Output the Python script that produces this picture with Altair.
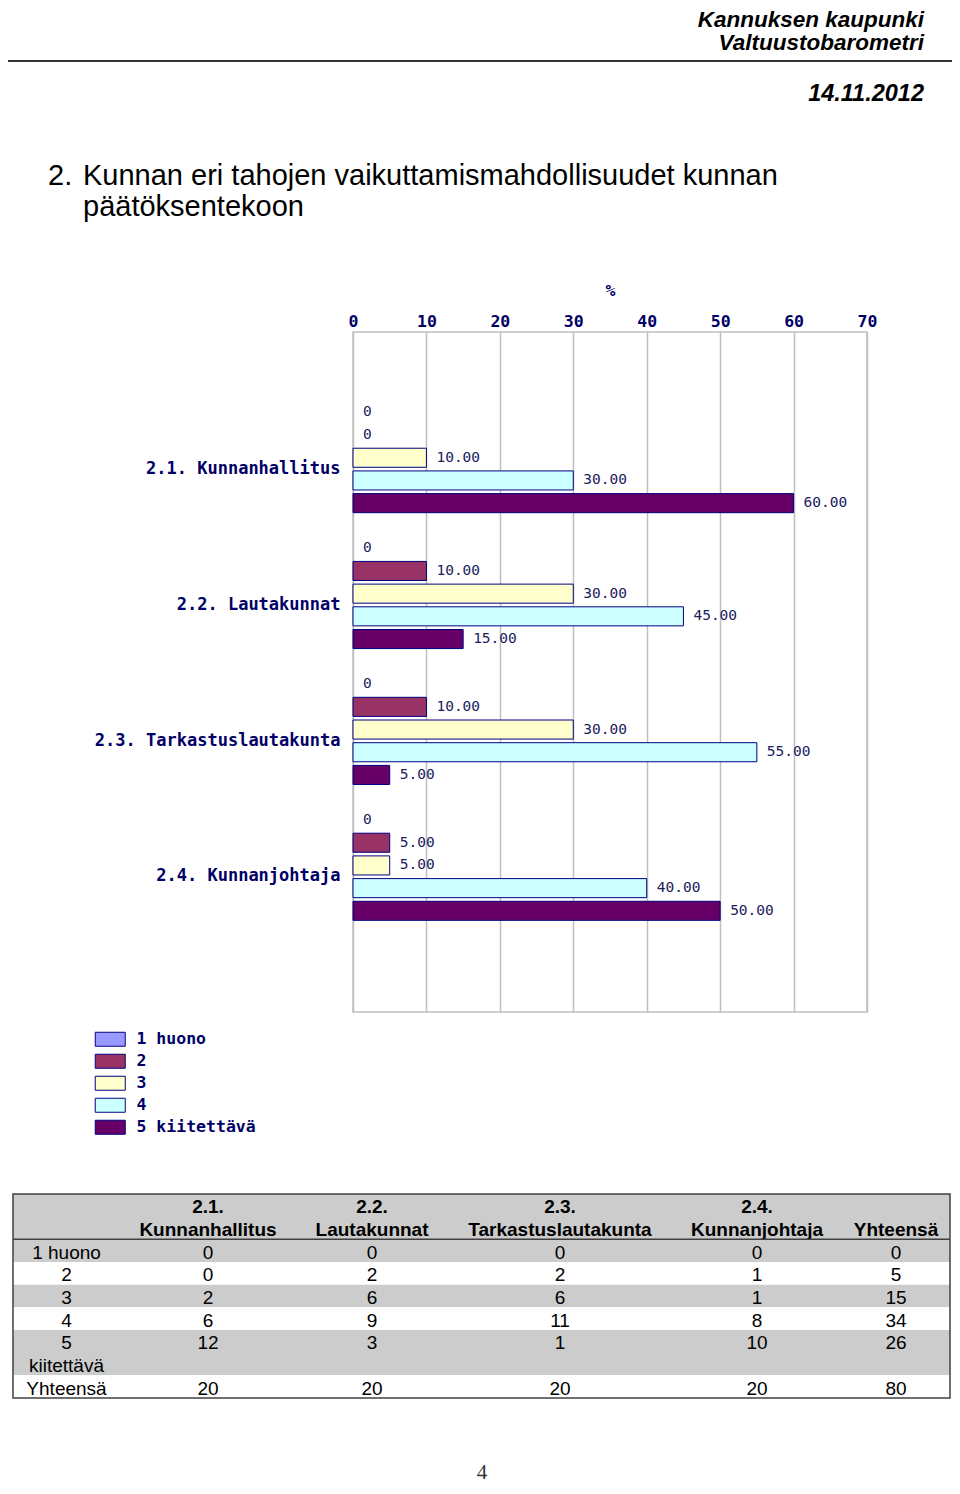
import altair as alt
import pandas as pd

# ------------------------------------------------------------------ data
categories = ["2.1. Kunnanhallitus", "2.2. Lautakunnat",
              "2.3. Tarkastuslautakunta", "2.4. Kunnanjohtaja"]
series = ["1 huono", "2", "3", "4", "5 kiitettävä"]
pct_kunnanhallitus = [0, 0, 10, 30, 60]
pct_lautakunnat = [0, 10, 30, 45, 15]
pct_tarkastuslautakunta = [0, 10, 30, 55, 5]
pct_kunnanjohtaja = [0, 5, 5, 40, 50]
x_ticks = [0, 10, 20, 30, 40, 50, 60, 70]

table_header_lines = [["", ""], ["2.1.", "Kunnanhallitus"], ["2.2.", "Lautakunnat"],
                      ["2.3.", "Tarkastuslautakunta"], ["2.4.", "Kunnanjohtaja"],
                      ["", "Yhteensä"]]
table_row_lines = [["1 huono"], ["2"], ["3"], ["4"], ["5", "kiitettävä"], ["Yhteensä"]]
cnt_kunnanhallitus = [0, 0, 2, 6, 12, 20]
cnt_lautakunnat = [0, 2, 6, 9, 3, 20]
cnt_tarkastuslautakunta = [0, 2, 6, 11, 1, 20]
cnt_kunnanjohtaja = [0, 1, 1, 8, 10, 20]
cnt_yhteensa = [0, 5, 15, 34, 26, 80]

header_line1 = "Kannuksen kaupunki"
header_line2 = "Valtuustobarometri"
header_date = "14.11.2012"
title_number = "2."
title_line1 = "Kunnan eri tahojen vaikuttamismahdollisuudet kunnan"
title_line2 = "päätöksentekoon"
page_number = "4"

# ------------------------------------------------------------------ styles / layout
MONO = "DejaVu Sans Mono"
SANS = "Liberation Sans"
NAVY = "#000066"
colors = ["#9999ff", "#993366", "#ffffcc", "#ccffff", "#660066"]
GRID = "#c0c0c0"
TGRAY = "#cccccc"
TLINE = "#404040"

# table geometry relative to the plot origin
TABLE_LEFT = -340
TABLE_TOP = 862
TABLE_BOTTOM = 1066
col_widths = [107, 176, 152, 224, 170, 108]

# ------------------------------------------------------------------ bar chart
pct_values = [pct_kunnanhallitus, pct_lautakunnat, pct_tarkastuslautakunta, pct_kunnanjohtaja]
df = pd.DataFrame([{"kategoria": c, "arvio": s, "pct": v}
                   for c, vals in zip(categories, pct_values)
                   for s, v in zip(series, vals)])

y_scale = alt.Scale(paddingInner=0.165, paddingOuter=0.5845, align=0.4345, round=False)
yoff_scale = alt.Scale(paddingInner=0.16, paddingOuter=0.08)

x_axis = alt.Axis(orient="top", values=x_ticks, grid=True, gridColor=GRID, gridWidth=1.5,
                  ticks=False, domain=False, labelFlush=False,
                  labelFont=MONO, labelFontWeight="bold", labelFontSize=16.5, labelColor=NAVY,
                  labelPadding=3, title="%", titleFont=MONO, titleFontWeight="bold",
                  titleFontSize=16.5, titleColor=NAVY, titlePadding=15)
y_axis = alt.Axis(title=None, ticks=False, domain=False, labelFont=MONO, labelFontWeight="bold",
                  labelFontSize=17, labelColor=NAVY, labelPadding=13, labelOffset=11,
                  labelLimit=400)

bars = alt.Chart(df).transform_filter("datum.pct > 0").mark_bar(
    stroke="#000080", strokeWidth=1
).encode(
    x=alt.X("pct:Q", scale=alt.Scale(domain=[0, 70], nice=False), axis=x_axis, title="%"),
    y=alt.Y("kategoria:N", sort=categories, scale=y_scale, axis=y_axis, title=None),
    yOffset=alt.YOffset("arvio:N", sort=series, scale=yoff_scale),
    color=alt.Color("arvio:N", scale=alt.Scale(domain=series, range=colors),
                    legend=alt.Legend(orient="none", legendX=-251, legendY=699, title=None,
                                      direction="vertical",
                                      symbolType="M-2.143,-1H2.143V1H-2.143Z", symbolSize=196,
                                      symbolStrokeColor="#000080", symbolStrokeWidth=1,
                                      symbolOpacity=1, labelFont=MONO, labelFontWeight="bold",
                                      labelFontSize=16.5, labelColor=NAVY, labelOffset=18,
                                      rowPadding=3, padding=0)),
)

value_labels = alt.Chart(df).transform_calculate(
    lbl="datum.pct == 0 ? '0' : format(datum.pct, '.2f')"
).mark_text(align="left", baseline="middle", dx=10, font=MONO, fontSize=14.5,
            color="#202060").encode(
    x=alt.X("pct:Q", title="%"),
    y=alt.Y("kategoria:N", sort=categories, title=None),
    yOffset=alt.YOffset("arvio:N", sort=series),
    text="lbl:N",
)

plot = alt.layer(bars, value_labels)


# ------------------------------------------------------------------ page texts
def deco_text(txt, x, y, **kw):
    return alt.Chart(pd.DataFrame({"t": [txt]})).mark_text(**kw).encode(
        text="t:N", x=alt.value(x), y=alt.value(y))


one = pd.DataFrame({"a": [0]})
hrule = alt.Chart(one).mark_rule(color="#333333", strokeWidth=2).encode(
    x=alt.value(-345), x2=alt.value(599), y=alt.value(-271))

hdr_kw = dict(font=SANS, fontWeight="bold", fontStyle="italic", align="right",
              baseline="alphabetic", color="black")
h1 = deco_text(header_line1, 571, -305, fontSize=22.5, **hdr_kw)
h2 = deco_text(header_line2, 571, -282, fontSize=22.5, **hdr_kw)
h3 = deco_text(header_date, 571, -231, fontSize=23.5, **hdr_kw)
ttl_kw = dict(font=SANS, fontSize=29, align="left", baseline="alphabetic", color="black")
t0 = deco_text(title_number, -305, -147, **ttl_kw)
t1 = deco_text(title_line1, -270, -147, **ttl_kw)
t2 = deco_text(title_line2, -270, -116, **ttl_kw)
pnum = deco_text(page_number, 129, 1147, font="Liberation Serif", fontSize=21,
                 align="center", baseline="alphabetic", color="#333333")

# ------------------------------------------------------------------ table
table_counts = [None, cnt_kunnanhallitus, cnt_lautakunnat, cnt_tarkastuslautakunta,
                cnt_kunnanjohtaja, cnt_yhteensa]
n_head = 2
starts = []
line = n_head
for rl in table_row_lines:
    starts.append(line)
    line += len(rl)
n_lines = line

edges = [TABLE_LEFT]
for w in col_widths:
    edges.append(edges[-1] + w)
TABLE_RIGHT = edges[-1]
col_centers = [(edges[i] + edges[i + 1]) / 2 for i in range(len(col_widths))]

t_xscale = alt.Scale(domain=list(range(len(col_widths))), range=col_centers)
t_yscale = alt.Scale(domain=[0, n_lines], range=[TABLE_TOP, TABLE_BOTTOM], nice=False, zero=False)

head_rows, body_rows = [], []
for j in range(len(col_widths)):
    for k, t in enumerate(table_header_lines[j]):
        head_rows.append({"kol": j, "rivi": k + 0.5, "teksti": t})
    for i, rl in enumerate(table_row_lines):
        if j == 0:
            for k, t in enumerate(rl):
                body_rows.append({"kol": j, "rivi": starts[i] + k + 0.5, "teksti": t})
        else:
            body_rows.append({"kol": j, "rivi": starts[i] + 0.5,
                              "teksti": str(table_counts[j][i])})
head_df = pd.DataFrame(head_rows)
body_df = pd.DataFrame(body_rows)
bg_df = pd.DataFrame([{"alku": 0, "loppu": n_head, "savy": TGRAY}] +
                     [{"alku": starts[i], "loppu": starts[i] + len(rl),
                       "savy": TGRAY if i % 2 == 0 else "white"}
                      for i, rl in enumerate(table_row_lines)])
rule_df = pd.DataFrame({"raja": [n_head]})
frame_df = pd.DataFrame({"a": [0], "b": [n_lines]})

t_bg = alt.Chart(bg_df).mark_rect().encode(
    y=alt.Y("alku:Q", scale=t_yscale, axis=None), y2="loppu:Q",
    x=alt.value(TABLE_LEFT), x2=alt.value(TABLE_RIGHT),
    color=alt.Color("savy:N", scale=None))
t_head = alt.Chart(head_df).mark_text(font=SANS, fontSize=19, fontWeight="bold",
                                      baseline="middle", dy=2, color="black").encode(
    x=alt.X("kol:Q", scale=t_xscale, axis=None),
    y=alt.Y("rivi:Q", scale=t_yscale, axis=None), text="teksti:N")
t_body = alt.Chart(body_df).mark_text(font=SANS, fontSize=19, baseline="middle", dy=2,
                                      color="black").encode(
    x=alt.X("kol:Q", scale=t_xscale, axis=None),
    y=alt.Y("rivi:Q", scale=t_yscale, axis=None), text="teksti:N")
t_rule = alt.Chart(rule_df).mark_rule(color=TLINE, strokeWidth=1.5).encode(
    y=alt.Y("raja:Q", scale=t_yscale, axis=None),
    x=alt.value(TABLE_LEFT), x2=alt.value(TABLE_RIGHT))
t_frame = alt.Chart(frame_df).mark_rect(fillOpacity=0, stroke=TLINE, strokeWidth=1.5).encode(
    y=alt.Y("a:Q", scale=t_yscale, axis=None), y2="b:Q",
    x=alt.value(TABLE_LEFT), x2=alt.value(TABLE_RIGHT))

chart = alt.layer(
    plot, hrule, h1, h2, h3, t0, t1, t2, t_bg, t_head, t_body, t_rule, t_frame, pnum
).resolve_scale(
    x="independent", y="independent"
).properties(
    width=514, height=680,
    padding={"left": 345, "top": 324, "right": 85, "bottom": 474},
    autosize=alt.AutoSizeParams(type="none"),
    view=alt.ViewBackground(stroke=GRID, strokeWidth=1.5),
)

chart.save("out.html", embed_options={"renderer": "svg", "actions": False})
